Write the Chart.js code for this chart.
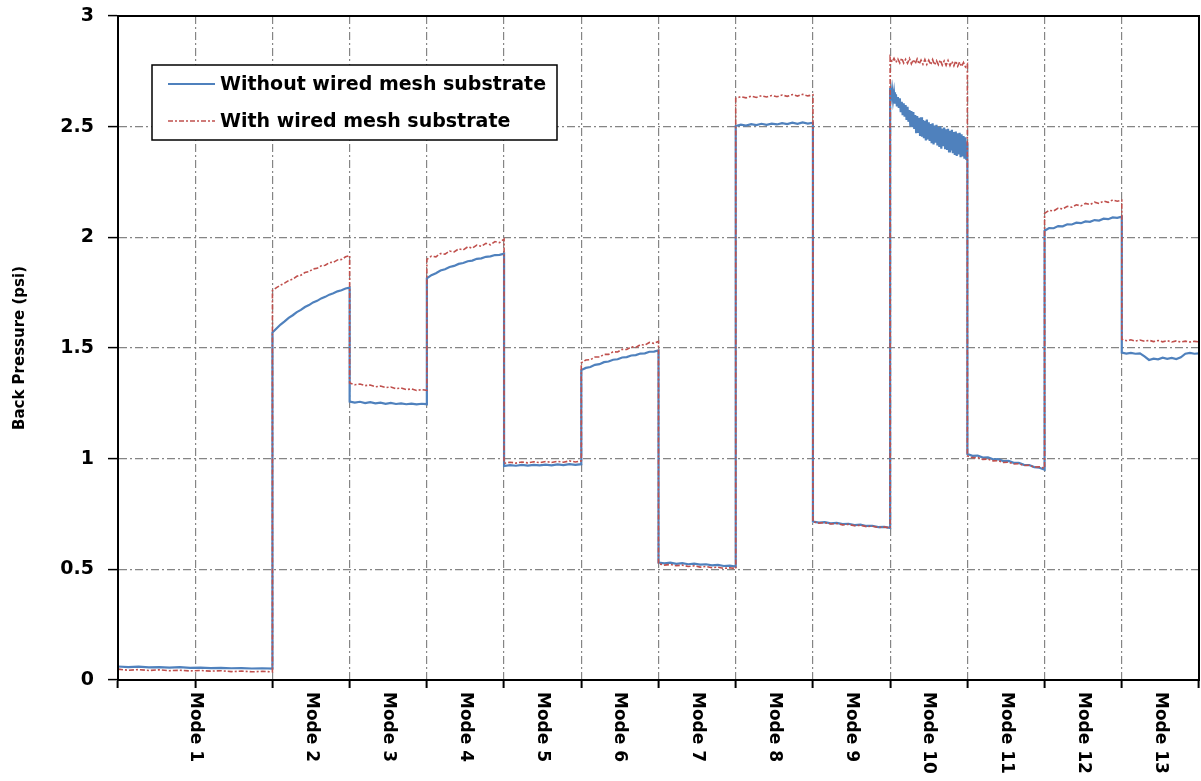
<!DOCTYPE html>
<html>
<head>
<meta charset="utf-8">
<script src="https://cdn.jsdelivr.net/npm/chart.js@4.4.1/dist/chart.umd.min.js"></script>
<style>
  html, body { margin: 0; padding: 0; background: #fff; }
  #wrap { width: 1201px; height: 781px; position: relative; }
</style>
</head>
<body>
<div id="wrap"><canvas id="chart"></canvas></div>
<script>
// Test cycle modes: label, start and end on the time axis (mode 1 lasts two units)
const modeLabels = ['Mode 1', 'Mode 2', 'Mode 3', 'Mode 4', 'Mode 5', 'Mode 6', 'Mode 7',
                    'Mode 8', 'Mode 9', 'Mode 10', 'Mode 11', 'Mode 12', 'Mode 13'];
const modeStart = [0, 2, 3, 4, 5, 6, 7, 8, 9, 10, 11, 12, 13];
const modeEnd   = [2, 3, 4, 5, 6, 7, 8, 9, 10, 11, 12, 13, 14];
const modeLabelAt = [1, 2.5, 3.5, 4.5, 5.5, 6.5, 7.5, 8.5, 9.5, 10.5, 11.5, 12.5, 13.5];

// Y axis ticks (psi)
const yTicks = [0, 0.5, 1, 1.5, 2, 2.5, 3];

// Back pressure samples (psi) for each mode, without wired mesh substrate
const withoutMesh = [
  [0.061, 0.058, 0.060, 0.057, 0.058, 0.056, 0.058, 0.055, 0.056, 0.054, 0.055, 0.053, 0.054, 0.052, 0.053, 0.051],
  [1.570, 1.588, 1.606, 1.620, 1.636, 1.648, 1.662, 1.672, 1.685, 1.694, 1.706, 1.713, 1.724, 1.731, 1.741, 1.747, 1.756, 1.761, 1.769, 1.773],
  [1.258, 1.253, 1.257, 1.251, 1.255, 1.250, 1.253, 1.248, 1.252, 1.247, 1.250, 1.246, 1.249, 1.245, 1.248, 1.246],
  [1.815, 1.829, 1.838, 1.850, 1.856, 1.866, 1.871, 1.880, 1.884, 1.892, 1.895, 1.903, 1.905, 1.912, 1.914, 1.920, 1.921, 1.926],
  [0.967, 0.971, 0.968, 0.972, 0.969, 0.972, 0.970, 0.973, 0.970, 0.974, 0.971, 0.975, 0.972, 0.975],
  [1.400, 1.410, 1.414, 1.424, 1.427, 1.436, 1.439, 1.447, 1.449, 1.457, 1.459, 1.466, 1.468, 1.475, 1.476, 1.483, 1.484, 1.489],
  [0.531, 0.527, 0.530, 0.525, 0.528, 0.523, 0.526, 0.521, 0.523, 0.518, 0.520, 0.515, 0.517, 0.512],
  [2.503, 2.509, 2.505, 2.511, 2.507, 2.513, 2.508, 2.514, 2.510, 2.516, 2.512, 2.518, 2.513, 2.519, 2.514, 2.518],
  [0.716, 0.711, 0.713, 0.708, 0.710, 0.704, 0.706, 0.700, 0.702, 0.696, 0.697, 0.691, 0.692, 0.687],
  [2.675, 2.632, 2.668, 2.620, 2.655, 2.604, 2.646, 2.592, 2.634, 2.585, 2.628, 2.566,
   2.612, 2.552, 2.606, 2.545, 2.598, 2.530, 2.590, 2.522, 2.575, 2.500, 2.570, 2.498,
   2.566, 2.490, 2.552, 2.470, 2.548, 2.472, 2.540, 2.458, 2.542, 2.455, 2.530, 2.448,
   2.526, 2.438, 2.532, 2.442, 2.520, 2.436, 2.512, 2.425, 2.515, 2.420, 2.505, 2.428,
   2.508, 2.415, 2.498, 2.408, 2.502, 2.400, 2.492, 2.412, 2.496, 2.398, 2.488, 2.395,
   2.490, 2.388, 2.482, 2.392, 2.486, 2.380, 2.476, 2.372, 2.478, 2.368, 2.470, 2.375,
   2.472, 2.362, 2.466, 2.365, 2.458, 2.355, 2.452, 2.350, 2.430],
  [1.021, 1.013, 1.014, 1.005, 1.006, 0.997, 0.998, 0.989, 0.990, 0.981, 0.981, 0.972, 0.971, 0.962, 0.959, 0.950],
  [2.030, 2.042, 2.041, 2.051, 2.050, 2.059, 2.058, 2.066, 2.064, 2.072, 2.070, 2.078, 2.076, 2.084, 2.082, 2.090, 2.088, 2.093],
  [1.479, 1.475, 1.478, 1.474, 1.476, 1.462, 1.446, 1.452, 1.449, 1.456, 1.451, 1.455, 1.450, 1.458, 1.474, 1.478, 1.474, 1.476]
];

// Back pressure samples (psi) for each mode, with wired mesh substrate
const withMesh = [
  [0.049, 0.044, 0.047, 0.043, 0.046, 0.042, 0.044, 0.041, 0.043, 0.040, 0.042, 0.038, 0.040, 0.037, 0.039, 0.037],
  [1.760, 1.773, 1.784, 1.793, 1.805, 1.811, 1.824, 1.829, 1.841, 1.845, 1.857, 1.860, 1.871, 1.874, 1.886, 1.887, 1.898, 1.900, 1.912, 1.918],
  [1.342, 1.334, 1.337, 1.330, 1.333, 1.325, 1.328, 1.321, 1.324, 1.316, 1.319, 1.312, 1.315, 1.308, 1.312, 1.309],
  [1.900, 1.915, 1.912, 1.927, 1.924, 1.938, 1.934, 1.948, 1.943, 1.957, 1.951, 1.965, 1.959, 1.973, 1.966, 1.981, 1.976, 1.992],
  [0.979, 0.984, 0.980, 0.985, 0.981, 0.986, 0.982, 0.987, 0.983, 0.988, 0.984, 0.990, 0.985, 0.990],
  [1.433, 1.446, 1.447, 1.459, 1.459, 1.471, 1.471, 1.483, 1.482, 1.494, 1.493, 1.505, 1.503, 1.515, 1.513, 1.525, 1.521, 1.530],
  [0.525, 0.519, 0.522, 0.516, 0.519, 0.513, 0.516, 0.510, 0.513, 0.507, 0.510, 0.504, 0.507, 0.503],
  [2.628, 2.636, 2.630, 2.638, 2.632, 2.640, 2.634, 2.641, 2.635, 2.643, 2.637, 2.645, 2.638, 2.646, 2.639, 2.644],
  [0.715, 0.709, 0.711, 0.705, 0.707, 0.701, 0.703, 0.697, 0.699, 0.693, 0.695, 0.689, 0.691, 0.687],
  [2.812, 2.792, 2.809, 2.790, 2.806, 2.788, 2.810, 2.787, 2.804, 2.786, 2.808, 2.784,
   2.803, 2.785, 2.806, 2.783, 2.801, 2.782, 2.804, 2.781, 2.800, 2.780, 2.803, 2.779,
   2.798, 2.780, 2.801, 2.778, 2.797, 2.777, 2.799, 2.776, 2.795, 2.775, 2.797, 2.773,
   2.792, 2.772, 2.790, 2.770, 2.782],
  [1.012, 1.004, 1.005, 0.997, 0.998, 0.990, 0.991, 0.983, 0.984, 0.976, 0.977, 0.969, 0.970, 0.962, 0.963, 0.957],
  [2.108, 2.122, 2.119, 2.132, 2.128, 2.140, 2.136, 2.147, 2.142, 2.153, 2.148, 2.159, 2.153, 2.164, 2.158, 2.169, 2.163, 2.168],
  [1.540, 1.533, 1.537, 1.531, 1.536, 1.530, 1.535, 1.529, 1.534, 1.528, 1.533, 1.527, 1.532, 1.527, 1.531, 1.527, 1.530, 1.528]
];

const seriesNames = ['Without wired mesh substrate', 'With wired mesh substrate'];
const BLUE = '#4F81BD';
const RED = '#C0504D';
const FONT = "'DejaVu Sans', sans-serif";

// Spread each mode's samples evenly over its time span
function toPoints(perMode) {
  const pts = [];
  perMode.forEach((vals, m) => {
    const a = modeStart[m], b = modeEnd[m], n = vals.length;
    vals.forEach((v, i) => pts.push({ x: a + (b - a) * i / (n - 1), y: v }));
  });
  return pts;
}

const GRID_DASH = [8, 3, 2, 3];
const RED_DASH = [5, 2, 2, 2];

// Frame, rotated mode labels and the legend box
const decorations = {
  id: 'decorations',
  afterDatasetsDraw(chart) {
    const { ctx, chartArea: ca } = chart;
    ctx.save();
    ctx.strokeStyle = '#000';
    ctx.lineWidth = 2;
    ctx.strokeRect(ca.left, ca.top, ca.right - ca.left, ca.bottom - ca.top);
    ctx.restore();
  },
  afterDraw(chart) {
    const { ctx, chartArea: ca, scales } = chart;
    // Mode labels, reading top to bottom
    ctx.save();
    ctx.fillStyle = '#000';
    ctx.font = 'bold 17px ' + FONT;
    ctx.textAlign = 'left';
    ctx.textBaseline = 'middle';
    modeLabels.forEach((lab, i) => {
      const x = scales.x.getPixelForValue(modeLabelAt[i]);
      ctx.save();
      ctx.translate(x, ca.bottom + 12);
      ctx.rotate(Math.PI / 2);
      ctx.fillText(lab, 0, 0);
      ctx.restore();
    });
    ctx.restore();

    // Legend
    const lx = ca.left + 34, ly = ca.top + 49, lw = 405, lh = 75;
    ctx.save();
    ctx.fillStyle = '#fff';
    ctx.fillRect(lx, ly, lw, lh);
    ctx.strokeStyle = '#000';
    ctx.lineWidth = 1.5;
    ctx.strokeRect(lx, ly, lw, lh);
    const rows = [
      { y: ly + 19, color: BLUE, width: 2, dash: [] },
      { y: ly + 56, color: RED, width: 1.3, dash: RED_DASH }
    ];
    rows.forEach((r, i) => {
      ctx.beginPath();
      ctx.setLineDash(r.dash);
      ctx.strokeStyle = r.color;
      ctx.lineWidth = r.width;
      ctx.moveTo(lx + 16, r.y);
      ctx.lineTo(lx + 63, r.y);
      ctx.stroke();
      ctx.setLineDash([]);
      ctx.fillStyle = '#000';
      ctx.font = 'bold 19px ' + FONT;
      ctx.textAlign = 'left';
      ctx.textBaseline = 'middle';
      ctx.fillText(seriesNames[i], lx + 68, r.y + 1);
    });
    ctx.restore();
  }
};

new Chart(document.getElementById('chart'), {
  type: 'line',
  data: {
    datasets: [
      {
        label: seriesNames[1],
        data: toPoints(withMesh),
        borderColor: RED,
        borderWidth: 1.6,
        borderDash: RED_DASH,
        pointRadius: 0,
        tension: 0,
        fill: false
      },
      {
        label: seriesNames[0],
        data: toPoints(withoutMesh),
        borderColor: BLUE,
        borderWidth: 2.2,
        pointRadius: 0,
        tension: 0,
        fill: false
      }
    ]
  },
  options: {
    responsive: true,
    maintainAspectRatio: false,
    animation: false,
    layout: { padding: { top: 16, right: 2, left: 0, bottom: 0 } },
    plugins: {
      legend: { display: false },
      tooltip: { enabled: false }
    },
    scales: {
      x: {
        type: 'linear',
        min: 0,
        max: 14,
        afterBuildTicks(scale) {
          scale.ticks = modeStart.concat([modeEnd[modeEnd.length - 1]]).map(v => ({ value: v }));
          scale.ticks.splice(1, 0, { value: modeLabelAt[0] });
        },
        ticks: { display: false },
        grid: {
          color: '#858585',
          lineWidth: 1.2,
          tickColor: '#000',
          tickWidth: 2,
          tickLength: 8,
          tickBorderDash: []
        },
        border: { display: true, color: '#000', width: 2, dash: GRID_DASH },
        afterFit(scale) {
          scale.height = 101;
          scale.paddingLeft = 0;
          scale.paddingRight = 0;
        }
      },
      y: {
        type: 'linear',
        min: 0,
        max: 3,
        afterBuildTicks(scale) {
          scale.ticks = yTicks.map(v => ({ value: v }));
        },
        ticks: {
          color: '#000',
          padding: 14,
          font: { family: FONT, size: 19, weight: 'bold' },
          callback: v => String(v)
        },
        grid: {
          color: '#858585',
          lineWidth: 1.2,
          tickColor: '#000',
          tickWidth: 1.5,
          tickLength: 10,
          tickBorderDash: []
        },
        border: { display: true, color: '#000', width: 2, dash: GRID_DASH },
        title: {
          display: true,
          text: 'Back Pressure (psi)',
          color: '#000',
          font: { family: FONT, size: 15, weight: 'bold' },
          padding: { top: 11, bottom: 0 }
        },
        afterFit(scale) {
          scale.width = 118;
          scale.paddingTop = 0;
          scale.paddingBottom = 0;
        }
      }
    }
  },
  plugins: [decorations]
});
</script>
</body>
</html>
